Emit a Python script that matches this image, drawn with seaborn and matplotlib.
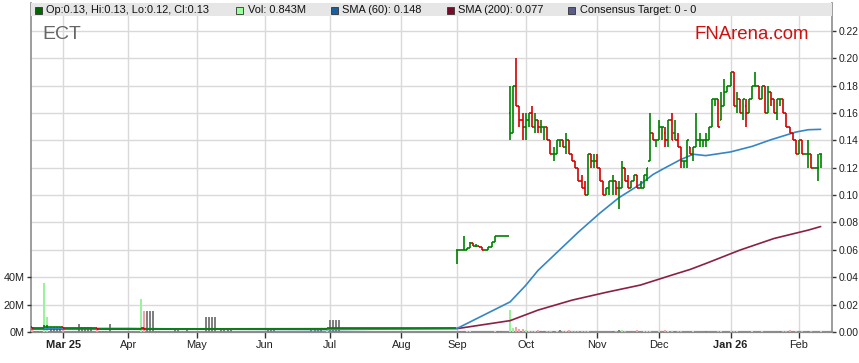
import numpy as np
import pandas as pd
import matplotlib
matplotlib.use("Agg")
import matplotlib.pyplot as plt
from matplotlib.patches import Rectangle
from matplotlib.ticker import FormatStrFormatter
import seaborn as sns

# ---------------- data ----------------
ticker = "ECT"
first_day = "2025-02-17"
last_day = "2026-02-11"
no_trade_days = ["2025-08-13", "2025-08-14", "2025-08-15"]

open_ = [
    .004, .003, .003, .003, .003, .0035, .004, .004, .004, .004,
    .004, .003, .003, .003, .003, .003, .003, .003, .003, .003,
    .003, .003, .002, .002, .002, .002, .002, .002, .002, .002,
    .002, .002, .002, .002, .002, .002, .003, .002, .002, .002,
    .002, .002, .002, .002, .002, .002, .002, .002, .002, .002,
    .002, .002, .002, .002, .002, .002, .002, .002, .002, .002,
    .002, .002, .002, .002, .002, .002, .002, .002, .002, .002,
    .002, .002, .002, .002, .002, .002, .002, .002, .002, .002,
    .002, .002, .002, .002, .002, .002, .002, .002, .002, .002,
    .002, .002, .002, .002, .002, .002, .003, .003, .003, .003,
    .003, .003, .003, .003, .003, .003, .003, .003, .003, .003,
    .003, .003, .003, .003, .003, .003, .003, .003, .003, .003,
    .003, .003, .003, .003, .003, .003, .003, .003, .003, .003,
    .003, .003, .003, .003, .003, .003, .003, .060, .060, .060,
    .060, .061, .065, .063, .063, .062, .060, .060, .062, .066,
    .070, .070, .070, .070, .160, .145, .180, .165, .155, .150,
    .155, .160, .150, .155, .150, .150, .150, .140, .130, .130,
    .140, .140, .135, .140, .130, .125, .120, .110, .105, .100,
    .130, .125, .125, .120, .110, .100, .105, .110, .110, .105,
    .105, .120, .110, .105, .110, .115, .105, .105, .115, .125,
    .145, .140, .140, .150, .145, .140, .155, .145, .140, .135,
    .125, .125, .135, .130, .135, .140, .140, .140, .140, .150,
    .170, .170, .155, .165, .175, .180, .190, .165, .170, .160,
    .165, .160, .170, .180, .180, .170, .180, .160, .175, .170,
    .160, .170, .170, .160, .150, .145, .140, .130, .140, .130,
    .130, .130, .120, .120, .130,
]
high = [
    .004, .003, .003, .003, .005, .005, .004, .004, .004, .004,
    .004, .003, .003, .003, .003, .003, .003, .003, .003, .003,
    .003, .003, .002, .002, .002, .002, .002, .002, .002, .002,
    .002, .002, .002, .002, .002, .003, .003, .002, .002, .002,
    .002, .002, .002, .002, .002, .002, .002, .002, .002, .002,
    .002, .002, .002, .002, .002, .002, .002, .002, .002, .002,
    .002, .002, .002, .002, .002, .002, .002, .002, .002, .002,
    .002, .002, .002, .002, .002, .002, .002, .002, .002, .002,
    .002, .002, .002, .002, .002, .002, .002, .002, .002, .002,
    .002, .002, .002, .002, .002, .003, .003, .003, .003, .003,
    .003, .003, .003, .003, .003, .003, .003, .003, .003, .003,
    .003, .003, .003, .003, .003, .003, .003, .003, .003, .003,
    .003, .003, .003, .003, .003, .003, .003, .003, .003, .003,
    .003, .003, .003, .003, .003, .003, .003, .060, .060, .070,
    .061, .066, .065, .064, .063, .062, .060, .062, .066, .070,
    .070, .070, .070, .070, .180, .180, .200, .165, .160, .160,
    .160, .165, .160, .155, .155, .150, .150, .140, .135, .140,
    .140, .140, .145, .140, .130, .125, .120, .115, .110, .130,
    .130, .130, .130, .120, .110, .105, .110, .115, .110, .110,
    .125, .120, .115, .110, .115, .115, .110, .115, .120, .160,
    .145, .140, .155, .150, .150, .155, .160, .155, .145, .135,
    .125, .140, .135, .135, .160, .145, .140, .145, .150, .170,
    .170, .170, .175, .185, .180, .190, .190, .175, .170, .170,
    .170, .170, .180, .190, .180, .180, .180, .180, .175, .170,
    .170, .170, .170, .160, .150, .145, .140, .140, .140, .130,
    .140, .130, .120, .130, .130,
]
low = [
    .003, .003, .003, .003, .003, .003, .004, .004, .004, .004,
    .003, .003, .003, .003, .003, .003, .003, .003, .003, .003,
    .003, .002, .002, .002, .002, .002, .002, .002, .002, .002,
    .002, .002, .002, .002, .002, .002, .002, .002, .002, .002,
    .002, .002, .002, .002, .002, .002, .002, .002, .002, .002,
    .002, .002, .002, .002, .002, .002, .002, .002, .002, .002,
    .002, .002, .002, .002, .002, .002, .002, .002, .002, .002,
    .002, .002, .002, .002, .002, .002, .002, .002, .002, .002,
    .002, .002, .002, .002, .002, .002, .002, .002, .002, .002,
    .002, .002, .002, .002, .002, .002, .003, .003, .003, .003,
    .003, .003, .003, .003, .003, .003, .003, .003, .003, .003,
    .003, .003, .003, .003, .003, .003, .003, .003, .003, .003,
    .003, .003, .003, .003, .003, .003, .003, .003, .003, .003,
    .003, .003, .003, .003, .003, .003, .003, .050, .060, .060,
    .060, .061, .063, .062, .062, .060, .060, .060, .062, .066,
    .070, .070, .070, .070, .140, .145, .165, .150, .140, .140,
    .150, .150, .145, .145, .145, .140, .140, .130, .125, .130,
    .135, .135, .130, .130, .125, .120, .110, .105, .100, .100,
    .120, .120, .120, .110, .100, .100, .100, .100, .100, .090,
    .105, .110, .105, .105, .110, .105, .105, .105, .110, .125,
    .140, .135, .140, .140, .135, .135, .140, .140, .135, .120,
    .120, .120, .130, .125, .135, .135, .135, .135, .140, .150,
    .165, .150, .155, .165, .175, .180, .165, .160, .160, .155,
    .150, .160, .170, .180, .170, .170, .160, .160, .165, .160,
    .155, .165, .160, .150, .145, .140, .130, .130, .130, .130,
    .120, .120, .120, .110, .120,
]
close = [
    .003, .003, .003, .003, .0035, .004, .004, .004, .004, .004,
    .003, .003, .003, .003, .003, .003, .003, .003, .003, .003,
    .003, .002, .002, .002, .002, .002, .002, .002, .002, .002,
    .002, .002, .002, .002, .002, .003, .002, .002, .002, .002,
    .002, .002, .002, .002, .002, .002, .002, .002, .002, .002,
    .002, .002, .002, .002, .002, .002, .002, .002, .002, .002,
    .002, .002, .002, .002, .002, .002, .002, .002, .002, .002,
    .002, .002, .002, .002, .002, .002, .002, .002, .002, .002,
    .002, .002, .002, .002, .002, .002, .002, .002, .002, .002,
    .002, .002, .002, .002, .002, .003, .003, .003, .003, .003,
    .003, .003, .003, .003, .003, .003, .003, .003, .003, .003,
    .003, .003, .003, .003, .003, .003, .003, .003, .003, .003,
    .003, .003, .003, .003, .003, .003, .003, .003, .003, .003,
    .003, .003, .003, .003, .003, .003, .003, .060, .060, .060,
    .061, .065, .063, .063, .062, .060, .060, .062, .066, .070,
    .070, .070, .070, .070, .145, .180, .165, .155, .150, .155,
    .160, .150, .155, .150, .150, .150, .140, .130, .130, .140,
    .140, .135, .140, .130, .125, .120, .110, .105, .100, .130,
    .125, .125, .120, .110, .100, .105, .110, .110, .105, .105,
    .120, .110, .105, .110, .115, .105, .105, .115, .120, .145,
    .140, .140, .150, .150, .140, .155, .140, .140, .135, .125,
    .125, .140, .130, .135, .140, .140, .140, .140, .150, .170,
    .170, .150, .165, .175, .180, .190, .165, .170, .160, .170,
    .160, .170, .180, .180, .170, .180, .160, .175, .170, .160,
    .170, .170, .160, .150, .145, .140, .130, .140, .130, .130,
    .130, .120, .120, .120, .130,
]
volume_m = [
    1.5, .7, .7, .7, 36, 11, 3.5, 3.5, 3.5, 3.5,
    1.5, 0, 0, 0, 0, 5.7, 3.5, 3.5, 3.5, 3.5,
    0, 1.5, 1.0, 1.0, 1.0, 5.7, 0, 0, 0, 0,
    0, 0, 0, 0, 0, 24, 15, 15, 15, 15,
    1.0, 1.0, 0, 0, 0, 0, 1.2, 1.2, 0, 0,
    1.5, 0, 0, 0, 0, 0, 11, 11, 11, 11,
    0, 2.5, 2.5, 2.5, 2.5, 0, 0, 0, 0, 0,
    0, 0, 0, 0, 0, 0, 2.5, 2.5, 2.5, 0,
    0, 0, 0, 0, 0, 0, 0, 0, 0, 0,
    1.5, 1.5, 1.5, 1.5, 0, 1.5, 8.5, 8.5, 8.5, 8.5,
    0, 0, 0, 0, 0, 0, 0, 0, 0, 0,
    0, 0, 0, 0, 0, 0, 0, 0, 0, 0,
    0, 0, 0, 0, 0, 0, 0, 0, 0, 0,
    0, 0, 0, 0, 0, 0, 0, .3, 1.0, .8,
    .8, .5, .3, 0, 0, 0, 0, .3, .3, .7,
    .7, .5, 0, 0, 16, 3, 4, 2.5, 2.5, 1.5,
    1.0, 1.0, .7, 1.5, .7, .7, .7, .7, .7, .5,
    1.5, .5, .5, 1.5, .5, .5, .7, .7, .7, .7,
    .3, .3, .3, .3, .3, .3, .3, .5, .5, 1.5,
    1.5, .5, .3, .3, .3, 1.5, .3, .7, .7, .5,
    .3, .3, .7, .3, 1.5, 1.0, 1.0, 1.0, 1.0, .7,
    .3, .3, .3, 1.0, .3, .3, .3, .5, .3, .3,
    .3, .5, .5, .3, .3, .5, .5, .5, .3, .3,
    .3, .3, .5, .3, .3, .5, .3, .3, .3, .3,
    .3, .5, .5, .5, 1.5, .3, .7, .3, .7, .3,
    .5, .5, .3, .3, .843,
]

sma60_dates = ["2025-02-17", "2025-04-01", "2025-05-01", "2025-07-01", "2025-08-01",
               "2025-09-01", "2025-09-24", "2025-10-01", "2025-10-07", "2025-10-24",
               "2025-11-04", "2025-11-12", "2025-11-21", "2025-11-27", "2025-12-03",
               "2025-12-10", "2025-12-16", "2025-12-22", "2026-01-01", "2026-01-12",
               "2026-01-20", "2026-01-30", "2026-02-05", "2026-02-11"]
sma60_values = [.0026, .0026, .0021, .0018, .0022,
                .0027, .0220, .0340, .0450, .0730,
                .0870, .0980, .1080, .1150, .1200,
                .1260, .1298, .1288, .1315, .1356,
                .1404, .1460, .1477, .1480]
sma200_dates = ["2025-02-17", "2025-09-01", "2025-09-24", "2025-10-07", "2025-10-22",
                "2025-11-06", "2025-11-21", "2025-12-05", "2025-12-15", "2025-12-22",
                "2026-01-06", "2026-01-21", "2026-02-05", "2026-02-11"]
sma200_values = [.0022, .0025, .0083, .0160, .0233,
                 .0290, .0343, .0415, .0457, .0500,
                 .0598, .0683, .0744, .0770]

month_labels = ["Mar 25", "Apr", "May", "Jun", "Jul", "Aug", "Sep",
                "Oct", "Nov", "Dec", "Jan 26", "Feb"]
bold_labels = ["Mar 25", "Jan 26"]
price_ticks = [0.00, 0.02, 0.04, 0.06, 0.08, 0.10, 0.12, 0.14, 0.16, 0.18, 0.20, 0.22]
volume_ticks_m = [0, 20, 40]
consensus_text = "0 - 0"

# ---------------- figure ----------------
W, H = 859, 363
sns.set_theme(style="white")
plt.rcParams["font.family"] = ["Liberation Sans", "DejaVu Sans"]

dates = pd.bdate_range(first_day, last_day).drop(pd.to_datetime(no_trade_days))
df = pd.DataFrame({"date": dates, "open": open_, "high": high, "low": low,
                   "close": close, "volume": np.array(volume_m) * 1e6})
df["pos"] = np.arange(len(df))
pos_of = pd.Series(df["pos"].values, index=df["date"])

# bar colours: close vs previous close
prev = df["close"].shift(1).fillna(df["open"].iloc[0])
chg = np.sign(df["close"] - prev)
price_col = np.where(chg < 0, "#d40000", "#008000")
vol_col = np.where(chg > 0, "#9cf29c", np.where(chg < 0, "#f4a3a3", "#808080"))

x0, x1 = 31, 832
y_top, y_bot = 3, 332
fig = plt.figure(figsize=(W / 100, H / 100), dpi=100)
ax = fig.add_axes([x0 / W, 1 - y_bot / H, (x1 - x0) / W, (y_bot - y_top) / H])
axv = ax.twinx()
axp = ax.twinx()

px_per_unit = 27.36 / 0.02
ytop = 0.22 + (30.7 - y_top) / px_per_unit
ax.set_ylim(0, ytop)
axp.set_ylim(0, ytop)
axv.set_ylim(0, ytop * 1e9)
xl = (-0.31, -0.31 + (x1 - x0) / 3.105)
ax.set_xlim(*xl)
axp.set_xlim(*xl)

# grid / price axis
ax.set_yticks(price_ticks)
ax.yaxis.set_major_formatter(FormatStrFormatter("%.2f"))
ax.yaxis.tick_right()
ax.grid(True, color="#d9d9d9", lw=1.0)
ax.set_axisbelow(True)
ax.tick_params(axis="y", which="both", right=True, left=False, direction="out",
               length=3, width=1, color="#333333", pad=1.5, labelsize=7.4,
               labelcolor="#222222")
month_pos = df.groupby(df["date"].dt.to_period("M"))["pos"].min().values[1:]
ax.set_xticks(month_pos)
ax.set_xticklabels(month_labels)
ax.tick_params(axis="x", direction="out", length=4, width=1, color="#333333",
               pad=2, labelsize=7.9, labelcolor="#222222", bottom=True)
for t in ax.get_xticklabels():
    if t.get_text() in bold_labels:
        t.set_fontweight("bold")
ax.spines["top"].set_visible(False)
for s in ["left", "right"]:
    ax.spines[s].set_color("#8c8c8c")
    ax.spines[s].set_linewidth(1.2)
ax.spines["bottom"].set_color("#8c8c8c")
ax.spines["bottom"].set_linewidth(1.6)

# volume axis (left)
axv.yaxis.tick_left()
axv.set_yticks([v * 1e6 for v in volume_ticks_m])
axv.set_yticklabels([f"{v}M" for v in volume_ticks_m])
axv.tick_params(axis="y", left=True, right=False, direction="out", length=3,
                width=1, color="#333333", pad=1.5, labelsize=7.8, labelcolor="#222222")
for s in axv.spines.values():
    s.set_visible(False)
axv.bar(df["pos"], df["volume"], width=0.65, color=vol_col, linewidth=0)

# SMA lines (below the price bars)
axp.set_yticks([])
for s in axp.spines.values():
    s.set_visible(False)
sma60 = pd.DataFrame({"pos": pos_of.loc[pd.to_datetime(sma60_dates)].values,
                      "value": sma60_values})
sma200 = pd.DataFrame({"pos": pos_of.loc[pd.to_datetime(sma200_dates)].values,
                       "value": sma200_values})
sns.lineplot(data=sma200, x="pos", y="value", ax=axp, color="#8a2046", lw=1.2,
             estimator=None, sort=False, zorder=2)
sns.lineplot(data=sma60, x="pos", y="value", ax=axp, color="#3586c6", lw=1.2,
             estimator=None, sort=False, zorder=2)

# price bars
axp.vlines(df["pos"], df["low"], df["high"], colors=price_col, lw=1.2, zorder=3)
axp.hlines(df["open"], df["pos"] - 0.5, df["pos"], colors=price_col, lw=1.2, zorder=3)
axp.hlines(df["close"], df["pos"], df["pos"] + 0.5, colors=price_col, lw=1.2, zorder=3)
axp.set_xlabel("")
axp.set_ylabel("")
ax.set_xlabel("")
axv.set_ylabel("")

# legend band
fig.add_artist(Rectangle((x0 / W, 1 - 16 / H), (x1 - x0) / W, 13 / H,
                         transform=fig.transFigure, facecolor="#e6e6e6",
                         edgecolor="none", zorder=5))
last = df.iloc[-1]
items = [
    (35, "#006600", f"Op:{last['open']:.2f}, Hi:{last['high']:.2f}, Lo:{last['low']:.2f}, Cl:{last['close']:.2f}"),
    (236, "#99ff99", f"Vol: {last['volume'] / 1e6:.3f}M"),
    (331, "#1a5f9e", f"SMA (60): {sma60_values[-1]:.3f}"),
    (447, "#7a0a2a", f"SMA (200): {sma200_values[-1]:.3f}"),
    (568, "#5c5c8a", f"Consensus Target: {consensus_text}"),
]
for xs, col, txt in items:
    fig.add_artist(Rectangle((xs / W, 1 - 13.5 / H), 7 / W, 7 / H,
                             transform=fig.transFigure, facecolor=col,
                             edgecolor="#333333", lw=0.6, zorder=6))
    fig.text((xs + 11.5) / W, 1 - 10 / H, txt, fontsize=7.9, color="#111111",
             va="center", ha="left", zorder=7)

fig.text(42 / W, 1 - 39 / H, ticker, fontsize=14, color="#666666", va="baseline")
fig.text(694 / W, 1 - 39 / H, "FNArena.com", fontsize=13.4, color="#cc1111",
         va="baseline")

fig.savefig("out.png", dpi=100)
